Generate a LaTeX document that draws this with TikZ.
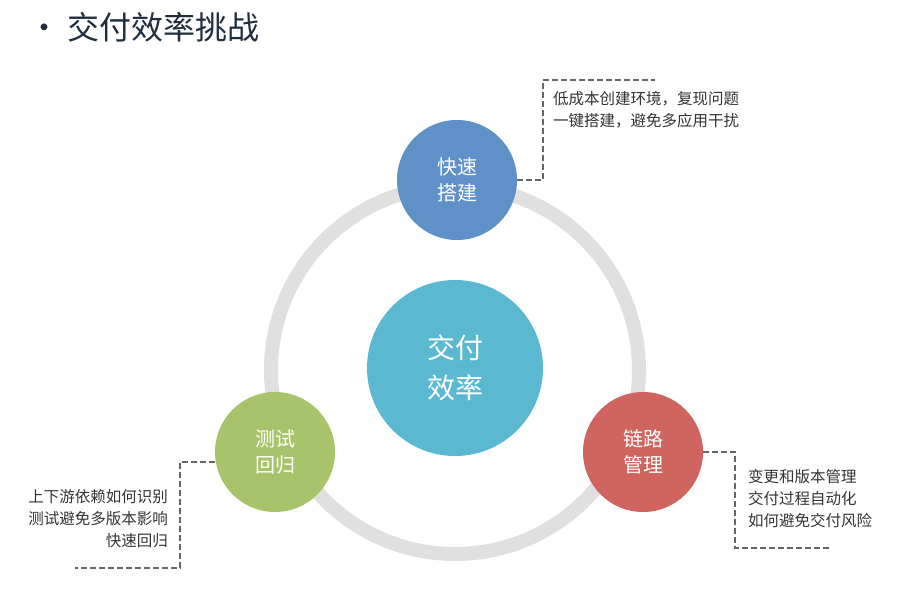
\documentclass[tikz,border=0pt]{standalone}
\usepackage{fontspec}
\setmainfont{Noto Sans CJK SC}
\begin{document}
\begin{tikzpicture}[x=1pt,y=-1pt,
  circ/.style={circle,draw=none,text=white,align=center,inner sep=0pt,font=\fontsize{20}{26}\selectfont},
  lead/.style={draw=black!60,line width=2.5pt,dash pattern=on 6pt off 3pt},
  note/.style={text=black!80,font=\fontsize{15.5}{22}\selectfont,inner sep=0pt}]
\useasboundingbox (0,0) rectangle (900,611);
\node[anchor=west,text={rgb,255:red,31;green,45;blue,61},font=\fontsize{32}{36}\selectfont] (title) at (25,27) {• 交付效率挑战};
\draw[line width=14pt,draw={rgb,255:red,224;green,224;blue,224}] (455,370) circle (184);
\node[circ,fill={rgb,255:red,90;green,184;blue,208},minimum size=176pt,font=\fontsize{28}{40}\selectfont] (c) at (455,368) {交付\\效率};
\node[circ,fill={rgb,255:red,95;green,144;blue,200},minimum size=120pt] (t) at (457,180) {快速\\搭建};
\node[circ,fill={rgb,255:red,168;green,196;blue,106},minimum size=120pt] (l) at (275,452) {测试\\回归};
\node[circ,fill={rgb,255:red,208;green,100;blue,94},minimum size=120pt] (r) at (643,452) {链路\\管理};
\coordinate (te) at (655,80);
\coordinate (le) at (75,568);
\coordinate (re) at (830,548);
\draw[lead] (t.east) -- (543,180) -- (543,80) -- (te);
\draw[lead] (l.west) ++(0,10) -- (180,462) -- (180,568) -- (le);
\draw[lead] (r.east) -- (735,452) -- (735,548) -- (re);
\node[note,anchor=north west,align=left] (tn) at (553,91) {低成本创建环境，复现问题\\一键搭建，避免多应用干扰};
\node[note,anchor=north east,align=right] (ln) at (168,489) {上下游依赖如何识别\\测试避免多版本影响\\快速回归};
\node[note,anchor=north west,align=left] (rn) at (748,469) {变更和版本管理\\交付过程自动化\\如何避免交付风险};
\end{tikzpicture}
\end{document}
